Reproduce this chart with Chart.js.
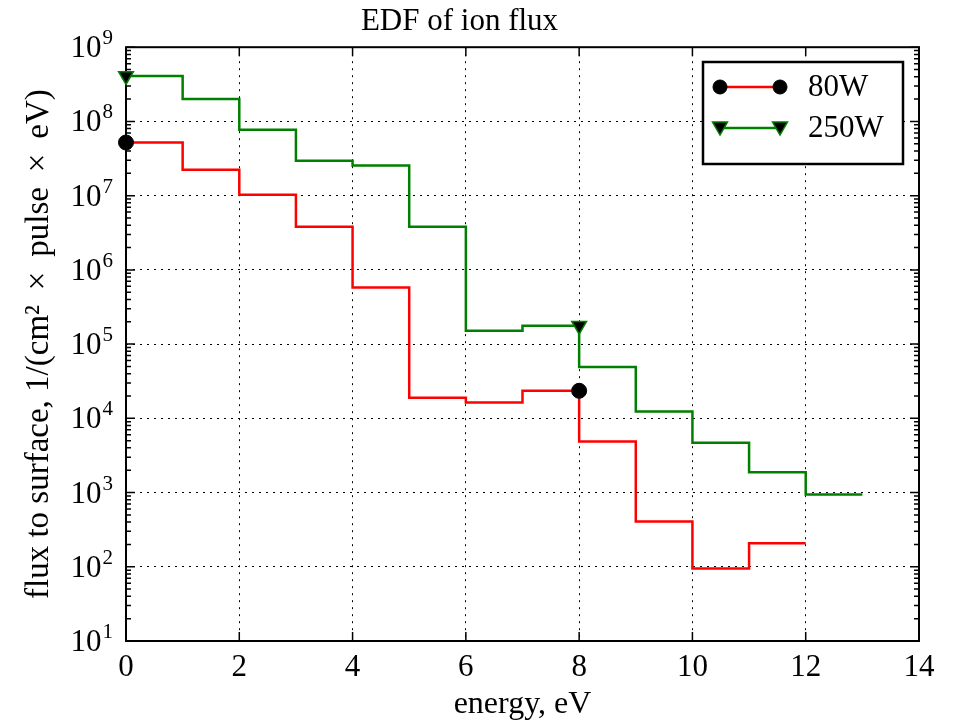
<!DOCTYPE html>
<html>
<head>
<meta charset="utf-8">
<script src="https://cdn.jsdelivr.net/npm/chart.js"></script>
<style>
  html, body { margin: 0; padding: 0; background: #fff; }
  #wrap { width: 958px; height: 724px; }
</style>
</head>
<body>
<div id="wrap"><canvas id="edf" width="958" height="724"></canvas></div>
<script>
// ======= DATA (step value over (x[i-1], x[i]]) =======
const energy80 = [0, 1, 2, 3, 4, 5, 6, 7, 8, 9, 10, 11, 12];
const flux80 = [5.2e7, 5.2e7, 2.23e7, 1.03e7, 3.8e6, 5.8e5, 1.89e4, 1.63e4, 2.35e4, 4.86e3, 406, 95, 208];
const energy250 = [0, 1, 2, 3, 4, 5, 6, 7, 8, 9, 10, 11, 12, 13];
const flux250 = [4.1e8, 4.1e8, 2.0e8, 7.7e7, 2.95e7, 2.55e7, 3.8e6, 1.51e5, 1.77e5, 4.9e4, 1.24e4, 4.7e3, 1.88e3, 940];
const seriesLabels = ['80W', '250W'];
const xTickValues = [0, 2, 4, 6, 8, 10, 12, 14];
const yExponents = [1, 2, 3, 4, 5, 6, 7, 8, 9];

const FONT = "'Liberation Serif', 'Times New Roman', serif";
const RED = '#ff0000';
const GREEN = '#008000';

function toPoints(xs, ys) {
  return xs.map((x, i) => ({ x: x, y: ys[i] }));
}

// markers only every 8th point, like markevery=8
const markerRadius = ctx => (ctx.dataIndex % 8 === 0 ? 7.5 : 0);

// ======= AXES DECORATION: frame, inward ticks, 10^n labels, legend =======
const framePlugin = {
  id: 'frame',
  beforeDatasetsDraw(chart) {
    const { ctx, chartArea: a, scales: { x, y } } = chart;
    ctx.save();
    ctx.strokeStyle = '#000';
    ctx.lineWidth = 1.5;
    ctx.beginPath();
    // x major ticks, bottom and top, pointing in
    x.ticks.forEach(t => {
      const px = x.getPixelForValue(t.value);
      ctx.moveTo(px, a.bottom); ctx.lineTo(px, a.bottom - 9);
      ctx.moveTo(px, a.top); ctx.lineTo(px, a.top + 9);
    });
    // y major + minor ticks, left and right
    yExponents.forEach(e => {
      const base = Math.pow(10, e);
      const py = y.getPixelForValue(base);
      ctx.moveTo(a.left, py); ctx.lineTo(a.left + 9, py);
      ctx.moveTo(a.right, py); ctx.lineTo(a.right - 9, py);
      if (e < 9) {
        for (let m = 2; m <= 9; m++) {
          const pm = y.getPixelForValue(m * base);
          ctx.moveTo(a.left, pm); ctx.lineTo(a.left + 5, pm);
          ctx.moveTo(a.right, pm); ctx.lineTo(a.right - 5, pm);
        }
      }
    });
    ctx.stroke();
    ctx.lineWidth = 2;
    ctx.strokeRect(a.left, a.top, a.right - a.left, a.bottom - a.top);

    // y tick labels as 10 with a raised exponent
    ctx.fillStyle = '#000';
    ctx.textBaseline = 'alphabetic';
    ctx.textAlign = 'right';
    yExponents.forEach(e => {
      const py = y.getPixelForValue(Math.pow(10, e));
      const exp = String(e);
      ctx.font = '21px ' + FONT;
      const ew = ctx.measureText(exp).width;
      const right = a.left - 13;
      ctx.fillText(exp, right, py - 3);
      ctx.font = '31px ' + FONT;
      ctx.fillText('10', right - ew - 1, py + 10);
    });
    ctx.restore();
  },
  afterDraw(chart) {
    const { ctx } = chart;
    const box = { left: 703, top: 62, right: 903, bottom: 164 };
    ctx.save();
    ctx.fillStyle = '#fff';
    ctx.fillRect(box.left, box.top, box.right - box.left, box.bottom - box.top);
    ctx.strokeStyle = '#000';
    ctx.lineWidth = 2.5;
    ctx.strokeRect(box.left, box.top, box.right - box.left, box.bottom - box.top);

    const rows = [87, 128];
    chart.data.datasets.forEach((ds, i) => {
      const yy = rows[i];
      ctx.strokeStyle = ds.borderColor;
      ctx.lineWidth = 2.5;
      ctx.beginPath();
      ctx.moveTo(720, yy); ctx.lineTo(780, yy);
      ctx.stroke();
      [720, 780].forEach(xx => {
        ctx.fillStyle = ds.pointBackgroundColor;
        ctx.strokeStyle = ds.pointBorderColor;
        ctx.lineWidth = ds.pointBorderWidth;
        ctx.beginPath();
        if (ds.pointStyle === 'triangle') {
          ctx.moveTo(xx - 7.5, yy - 6);
          ctx.lineTo(xx + 7.5, yy - 6);
          ctx.lineTo(xx, yy + 7);
          ctx.closePath();
        } else {
          ctx.arc(xx, yy, 7, 0, Math.PI * 2);
        }
        ctx.fill();
        ctx.stroke();
      });
      ctx.fillStyle = '#000';
      ctx.font = '31px ' + FONT;
      ctx.textAlign = 'left';
      ctx.textBaseline = 'middle';
      ctx.fillText(ds.label, 808, yy + 1);
    });
    ctx.restore();
  }
};

new Chart(document.getElementById('edf'), {
  type: 'line',
  data: {
    datasets: [
      {
        label: seriesLabels[0],
        data: toPoints(energy80, flux80),
        borderColor: RED,
        borderWidth: 2.5,
        stepped: 'after',
        fill: false,
        pointStyle: 'circle',
        pointRadius: markerRadius,
        pointBackgroundColor: '#000',
        pointBorderColor: '#000',
        pointBorderWidth: 1,
        clip: false
      },
      {
        label: seriesLabels[1],
        data: toPoints(energy250, flux250),
        borderColor: GREEN,
        borderWidth: 2.5,
        stepped: 'after',
        fill: false,
        pointStyle: 'triangle',
        pointRotation: 180,
        pointRadius: ctx => (ctx.dataIndex % 8 === 0 ? 8.5 : 0),
        pointBackgroundColor: '#000',
        pointBorderColor: GREEN,
        pointBorderWidth: 1.5,
        clip: false
      }
    ]
  },
  options: {
    responsive: false,
    devicePixelRatio: 1,
    animation: false,
    events: [],
    layout: { padding: { left: 0, right: 39, top: 0, bottom: 0 } },
    plugins: {
      legend: { display: false },
      tooltip: { enabled: false },
      title: {
        display: true,
        text: 'EDF of ion flux',
        color: '#000',
        font: { family: FONT, size: 31, weight: 'normal' },
        padding: { top: 3, bottom: 7 }
      }
    },
    scales: {
      x: {
        type: 'linear',
        min: 0,
        max: 14,
        afterBuildTicks: s => { s.ticks = xTickValues.map(v => ({ value: v })); },
        afterFit: s => { s.height = 83; },
        ticks: {
          color: '#000',
          font: { family: FONT, size: 31 },
          padding: 8,
          maxRotation: 0
        },
        grid: { color: '#000', lineWidth: 1, drawTicks: false },
        border: { display: false, dash: [2, 5] },
        title: {
          display: true,
          text: 'energy, eV',
          color: '#000',
          font: { family: FONT, size: 32 },
          padding: { top: 0, bottom: 0 }
        }
      },
      y: {
        type: 'logarithmic',
        min: 10,
        max: 1e9,
        afterBuildTicks: s => { s.ticks = yExponents.map(e => ({ value: Math.pow(10, e) })); },
        afterFit: s => { s.width = 126; },
        ticks: { display: false },
        grid: { color: '#000', lineWidth: 1, drawTicks: false },
        border: { display: false, dash: [2, 5] },
        title: {
          display: true,
          text: 'flux to surface, 1/(cm\u00B2 \u2009\u00D7\u2009 pulse \u2009\u00D7\u2009 eV)',
          color: '#000',
          font: { family: FONT, size: 33 },
          padding: { top: 20, bottom: 0 }
        }
      }
    }
  },
  plugins: [framePlugin]
});
</script>
</body>
</html>
